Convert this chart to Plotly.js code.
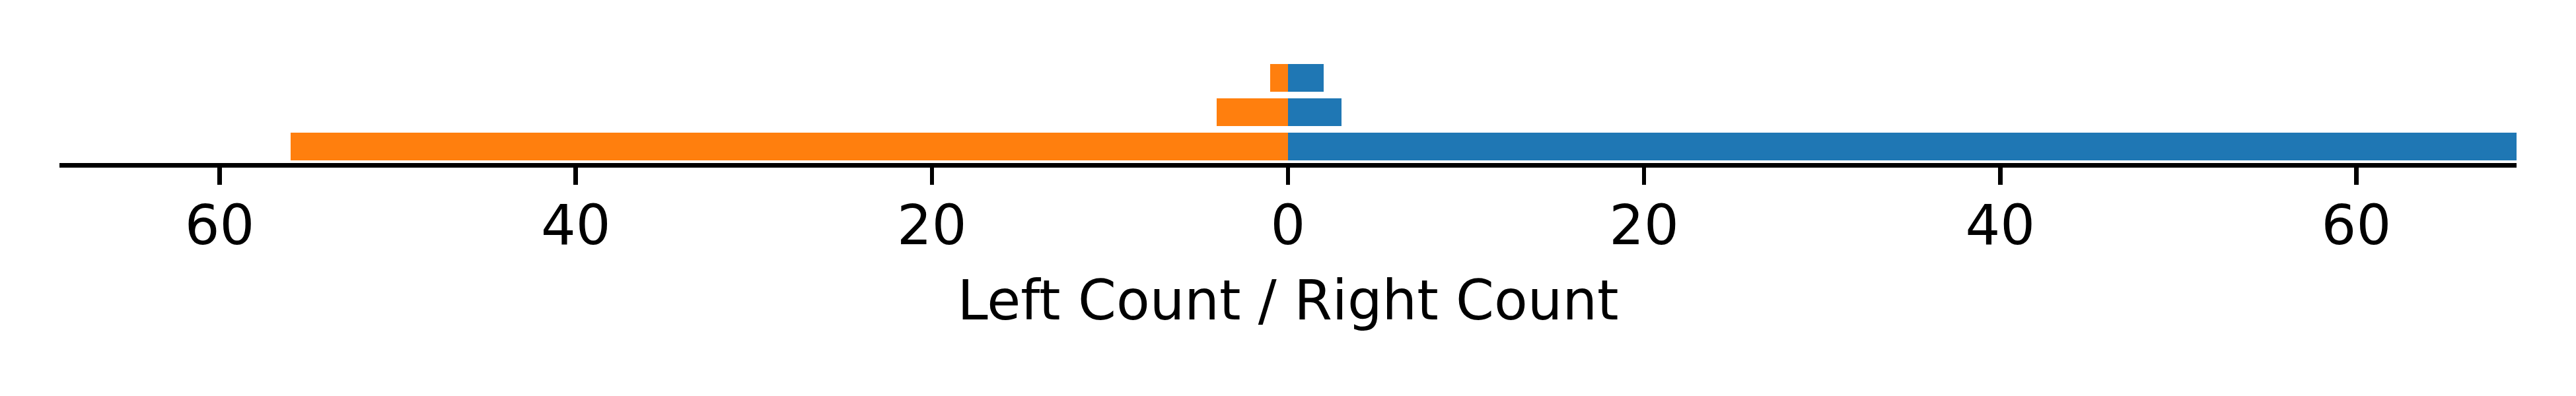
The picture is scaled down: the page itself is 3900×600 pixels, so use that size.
<!DOCTYPE html>
<html>
<head>
<meta charset="utf-8">
<script src="https://cdn.plot.ly/plotly-3.0.1.min.js"></script>
<style>
  html, body { margin: 0; padding: 0; background: #ffffff; }
  #chart { width: 3900px; height: 600px; }
</style>
</head>
<body>
<div id="chart"></div>
<script>
// Data (bottom to top)
const categories = ["Group A", "Group B", "Group C"];
const leftCounts = [56, 4, 1];
const rightCounts = [69, 3, 2];
const tickValues = [-60, -40, -20, 0, 20, 40, 60];
const tickLabels = ["60", "40", "20", "0", "20", "40", "60"];
const xAxisTitle = "Left Count / Right Count";

const yIndex = categories.map((_, i) => i);

const traces = [
  {
    type: "bar", orientation: "h", name: "Left",
    y: yIndex, x: leftCounts.map(v => -v), width: 0.8,
    marker: { color: "#ff7f0e", line: { width: 0 } }, hoverinfo: "skip"
  },
  {
    type: "bar", orientation: "h", name: "Right",
    y: yIndex, x: rightCounts, width: 0.8,
    marker: { color: "#1f77b4", line: { width: 0 } }, hoverinfo: "skip"
  }
];

const font = "DejaVu Sans, sans-serif";

const layout = {
  width: 3900, height: 600,
  margin: { l: 90, r: 90, t: 90, b: 353, pad: 0 },
  paper_bgcolor: "#ffffff", plot_bgcolor: "#ffffff",
  showlegend: false, barmode: "relative", bargap: 0,
  font: { family: font, color: "#000000", size: 83 },
  xaxis: {
    range: [-69, 69], tickmode: "array", tickvals: tickValues, ticktext: tickLabels,
    showgrid: false, zeroline: false, showline: true,
    linecolor: "#000000", linewidth: 6.7,
    ticks: "outside", ticklen: 26, tickwidth: 6.7, tickcolor: "#000000",
    ticklabelstandoff: -9,
    tickfont: { family: font, size: 83, color: "#000000" },
    title: { text: xAxisTitle, font: { family: font, size: 83, color: "#000000" }, standoff: 39 },
    fixedrange: true
  },
  yaxis: { range: [-0.482, 2.54], visible: false, showgrid: false, zeroline: false, fixedrange: true }
};

Plotly.newPlot("chart", traces, layout, { staticPlot: true, displayModeBar: false });
</script>
</body>
</html>
